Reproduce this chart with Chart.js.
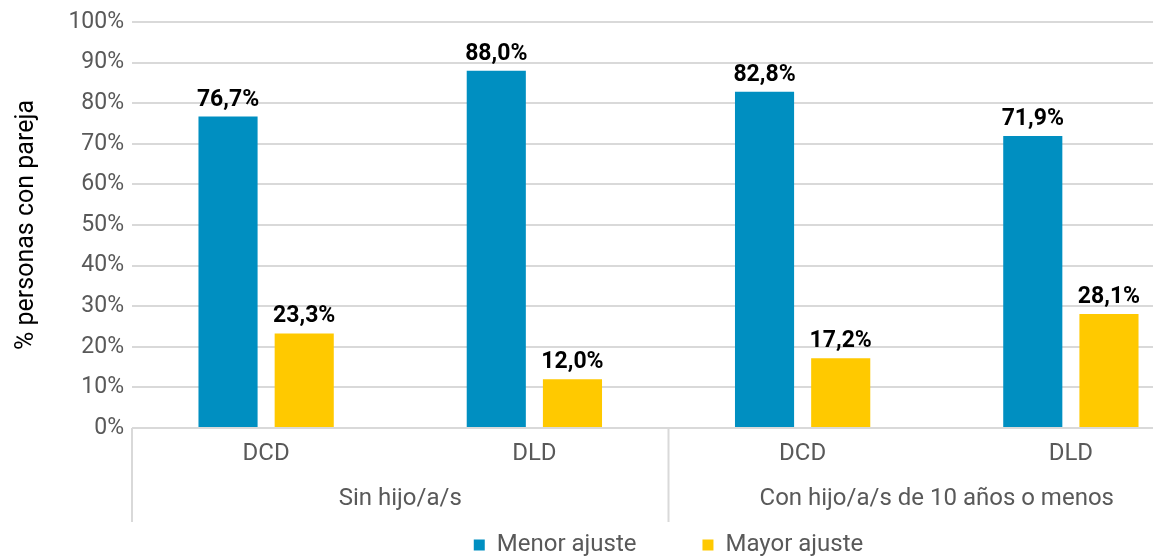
<!DOCTYPE html>
<html>
<head>
<meta charset="utf-8">
<script src="https://cdn.jsdelivr.net/npm/chart.js@4"></script>
<style>
html, body { margin: 0; padding: 0; background: #fff; }
#wrap { width: 1153px; height: 560px; overflow: hidden; }
</style>
</head>
<body>
<div id="wrap"><canvas id="myChart" width="1205" height="560"></canvas></div>
<script>
var groups = ['Sin hijo/a/s', 'Con hijo/a/s de 10 años o menos'];
var groupSizes = [2, 2];
var categories = ['DCD', 'DLD', 'DCD', 'DLD'];
var menorAjuste = [76.7, 88.0, 82.8, 71.9];
var mayorAjuste = [23.3, 12.0, 17.2, 28.1];

Chart.defaults.font.family = 'Roboto';

// value labels above every bar, decimal comma
var valueLabels = {
    id: 'valueLabels',
    afterDatasetsDraw: function(chart) {
        var ctx = chart.ctx;
        ctx.save();
        ctx.font = 'bold 23px Roboto';
        ctx.fillStyle = '#000';
        ctx.textAlign = 'center';
        ctx.textBaseline = 'alphabetic';
        chart.data.datasets.forEach(function(ds, i) {
            chart.getDatasetMeta(i).data.forEach(function(bar, j) {
                ctx.fillText(ds.data[j].toFixed(1).replace('.', ',') + '%', bar.x, bar.y - 11);
            });
        });
        ctx.restore();
    }
};

// second level of the category axis: separators + group names
var groupAxis = {
    id: 'groupAxis',
    afterDraw: function(chart) {
        var x = chart.scales.x, ctx = chart.ctx;
        var bottom = chart.chartArea.bottom;
        var start = 0;
        ctx.save();
        ctx.strokeStyle = '#d9d9d9';
        ctx.lineWidth = 2;
        ctx.font = '24px Roboto';
        ctx.fillStyle = '#595959';
        ctx.textAlign = 'center';
        ctx.textBaseline = 'middle';
        var edges = [start];
        groups.forEach(function(g, i) {
            var end = start + groupSizes[i];
            var left = x.getPixelForValue(start - 0.5);
            var right = x.getPixelForValue(end - 0.5);
            ctx.fillText(g, (left + right) / 2, bottom + 71);
            edges.push(end);
            start = end;
        });
        edges.forEach(function(e) {
            var px = x.getPixelForValue(e - 0.5);
            ctx.beginPath();
            ctx.moveTo(px, bottom);
            ctx.lineTo(px, bottom + 94);
            ctx.stroke();
        });
        ctx.restore();
    }
};

var ctx = document.getElementById('myChart').getContext('2d');
var myChart = new Chart(ctx, {
    type: 'bar',
    data: {
        labels: categories,
        datasets: [
            { label: 'Menor ajuste', data: menorAjuste, backgroundColor: '#008FC1', borderWidth: 0 },
            { label: 'Mayor ajuste', data: mayorAjuste, backgroundColor: '#FFC900', borderWidth: 0 }
        ]
    },
    options: {
        responsive: false,
        animation: false,
        categoryPercentage: 0.568,
        barPercentage: 0.776,
        layout: { padding: { left: 12, top: 22, right: 0, bottom: -7 } },
        scales: {
            x: {
                grid: { display: false, drawTicks: false },
                border: { display: false },
                ticks: { font: { size: 24 }, color: '#595959', padding: 12, autoSkip: false, maxRotation: 0 },
                afterFit: function(scale) { scale.height = 39; }
            },
            y: {
                min: 0,
                max: 100,
                ticks: {
                    stepSize: 10,
                    padding: 8,
                    font: { size: 23 },
                    color: '#595959',
                    callback: function(v) { return v + '%'; }
                },
                grid: { color: '#d9d9d9', lineWidth: 2, drawTicks: false },
                border: { display: false },
                title: { display: true, text: '% personas con pareja', font: { size: 25 }, color: '#000', padding: 0 },
                afterFit: function(scale) { scale.width = 120; }
            }
        },
        plugins: {
            legend: {
                position: 'bottom',
                fullSize: false,
                labels: { boxWidth: 11, boxHeight: 11, padding: 66, font: { size: 24 }, color: '#595959' }
            },
            tooltip: { enabled: false }
        }
    },
    plugins: [valueLabels, groupAxis]
});
</script>
</body>
</html>
